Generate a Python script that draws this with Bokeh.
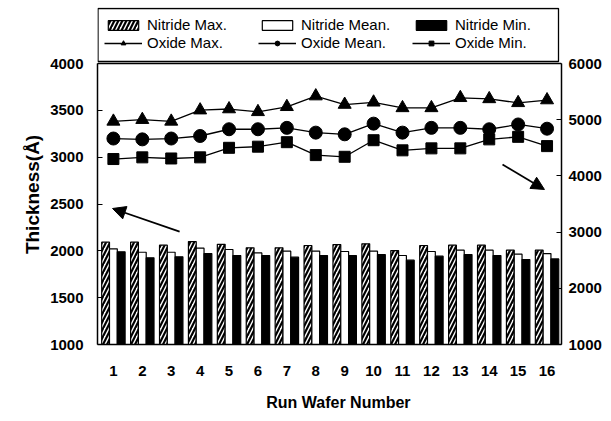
from bokeh.plotting import figure
from bokeh.models import (Range1d, LinearAxis, FixedTicker, Legend, LegendItem,
                          Arrow, NormalHead, Span, BoxAnnotation)
from bokeh.embed import file_html
from bokeh.resources import INLINE
import numpy as np

# ---------------- data ----------------
wafers = list(range(1, 17))
wafer_labels = [str(w) for w in wafers]

nitride_max = [2092, 2092, 2060, 2099, 2070, 2032, 2032, 2057,
               2067, 2075, 2003, 2057, 2060, 2060, 2007, 2007]
nitride_mean = [2021, 1985, 1985, 2028, 2014, 1978, 1996, 1996,
                1993, 1996, 1950, 1993, 2007, 2007, 1964, 1971]
nitride_min = [1989, 1925, 1936, 1971, 1950, 1950, 1932, 1950,
               1950, 1960, 1900, 1943, 1960, 1950, 1907, 1914]

oxide_max = [4970, 5000, 4970, 5170, 5190, 5140, 5230, 5420,
             5270, 5310, 5210, 5210, 5390, 5370, 5300, 5350]
oxide_mean = [4665, 4650, 4665, 4710, 4830, 4830, 4855, 4770,
              4740, 4930, 4770, 4855, 4855, 4830, 4915, 4840]
oxide_min = [4300, 4330, 4310, 4330, 4500, 4520, 4600, 4370,
             4340, 4635, 4455, 4490, 4490, 4650, 4695, 4530]

left_ticks = [1000, 1500, 2000, 2500, 3000, 3500, 4000]
right_ticks = [1000, 2000, 3000, 4000, 5000, 6000]

# arrows (x, left-axis y): nitride arrow points left, oxide arrow points right
nitride_arrow = [3.29, 2206, 0.97, 2452]
oxide_arrow = [14.46, 2922, 15.91, 2655]

FONT = "Liberation Sans"
W = 0.27
FRAME_W = 464
PLOT_H = 281   # height of the plotting box in px
LEG_H = 56     # legend strip above it (inside the frame)
NB = "\u00a0"

X0, X1 = 0.45, 16.5
l0, l1 = left_ticks[0], left_ticks[-1]
r0, r1 = right_ticks[0], right_ticks[-1]
left_top = l1 + (l1 - l0) * LEG_H / PLOT_H
right_top = r1 + (r1 - r0) * LEG_H / PLOT_H
px_y = (l1 - l0) / PLOT_H          # data units per px (left axis)
px_x = (X1 - X0) / FRAME_W         # data units per px (x axis)

p = figure(frame_width=FRAME_W, frame_height=PLOT_H + LEG_H, output_backend="svg",
           toolbar_location=None,
           x_range=Range1d(X0, X1), y_range=Range1d(l0, left_top),
           min_border_left=97, min_border_right=41, min_border_top=7,
           min_border_bottom=70)
p.extra_y_ranges = {"right": Range1d(r0, right_top)}

p.grid.visible = False
p.outline_line_color = None
p.background_fill_color = "white"
p.border_fill_color = "white"

x = np.array(wafers, dtype=float)

r_nmax = p.vbar(x=x - W, top=nitride_max, bottom=l0, width=W,
                fill_color="white", line_color="black", line_width=1.2,
                hatch_pattern="/", hatch_color="black", hatch_scale=8,
                hatch_weight=2.2)
r_nmean = p.vbar(x=x, top=nitride_mean, bottom=l0, width=W,
                 fill_color="white", line_color="black", line_width=1.2)
r_nmin = p.vbar(x=x + W, top=nitride_min, bottom=l0, width=W,
                fill_color="black", line_color="black", line_width=1.2)

l_omax = p.line(x, oxide_max, y_range_name="right", line_color="black", line_width=1.3)
s_omax = p.scatter(x, oxide_max, y_range_name="right", marker="triangle", size=13,
                   fill_color="black", line_color="black")
l_omean = p.line(x, oxide_mean, y_range_name="right", line_color="black", line_width=1.3)
s_omean = p.scatter(x, oxide_mean, y_range_name="right", marker="circle", size=13,
                    fill_color="black", line_color="black")
l_omin = p.line(x, oxide_min, y_range_name="right", line_color="black", line_width=1.3)
s_omin = p.scatter(x, oxide_min, y_range_name="right", marker="square", size=11,
                   fill_color="black", line_color="black")

for a in (nitride_arrow, oxide_arrow):
    p.add_layout(Arrow(end=NormalHead(size=13, fill_color="black", line_color="black"),
                       x_start=a[0], y_start=a[1], x_end=a[2], y_end=a[3],
                       line_color="black", line_width=1.8))

# top edge of the plotting box
p.add_layout(Span(location=l1, dimension="width", line_color="black", line_width=1.5))

# legend frame
p.add_layout(BoxAnnotation(left=X0 + 0.5 * px_x, right=X0 + 461 * px_x,
                           bottom=l1 + 2 * px_y, top=left_top - 1 * px_y,
                           fill_alpha=0, line_color="black", line_width=1.3,
                           line_alpha=1, level="overlay"))

# axes
xa = p.xaxis[0]
xa.ticker = FixedTicker(ticks=wafers)
xa.major_label_overrides = {w: l for w, l in zip(wafers, wafer_labels)}
xa.axis_label = NB * 4 + "Run Wafer Number"
xa.major_tick_line_color = None
xa.minor_tick_line_color = None
xa.axis_line_color = "black"
xa.axis_line_width = 1.5
xa.major_label_standoff = 15
xa.axis_label_standoff = 15

ya = p.yaxis[0]
ya.ticker = FixedTicker(ticks=left_ticks)
ya.bounds = (l0, l1)
ya.axis_label = "Thickness(Å)" + NB * 7
ya.major_tick_in = 5
ya.major_tick_out = 0
ya.minor_tick_line_color = None
ya.axis_line_width = 1.5
ya.major_label_standoff = 14
ya.axis_label_standoff = 4

ra = LinearAxis(y_range_name="right", ticker=FixedTicker(ticks=right_ticks),
                bounds=(r0, r1))
ra.major_tick_in = 5
ra.major_tick_out = 0
ra.minor_tick_line_color = None
ra.axis_line_width = 1.5
ra.major_label_standoff = 7
p.add_layout(ra, "right")

for ax in (xa, ya, ra):
    ax.major_label_text_font = FONT
    ax.major_label_text_font_style = "bold"
    ax.major_label_text_font_size = "15px"
    ax.major_label_text_color = "black"
    ax.axis_label_text_font = FONT
    ax.axis_label_text_font_style = "bold"
    ax.axis_label_text_color = "black"
xa.axis_label_text_font_size = "16px"
ya.axis_label_text_font_size = "19px"

legend = Legend(items=[
    LegendItem(label="Nitride Max.", renderers=[r_nmax]),
    LegendItem(label="Oxide Max.", renderers=[l_omax, s_omax]),
    LegendItem(label="Nitride Mean.", renderers=[r_nmean]),
    LegendItem(label="Oxide Mean.", renderers=[l_omean, s_omean]),
    LegendItem(label="Nitride Min.", renderers=[r_nmin]),
    LegendItem(label="Oxide Min.", renderers=[l_omin, s_omin]),
], ncols=3, location=(7, PLOT_H + LEG_H - 44), orientation="vertical")
legend.label_text_font = FONT
legend.label_text_font_size = "15px"
legend.label_text_color = "black"
legend.glyph_width = 38
legend.glyph_height = 12
legend.label_width = 110
legend.label_height = 17
legend.label_standoff = 5
legend.spacing = 1
legend.padding = 8
legend.margin = 0
legend.border_line_color = None
legend.background_fill_alpha = 0
p.add_layout(legend, "center")

open("out.html", "w").write(file_html(p, INLINE))
